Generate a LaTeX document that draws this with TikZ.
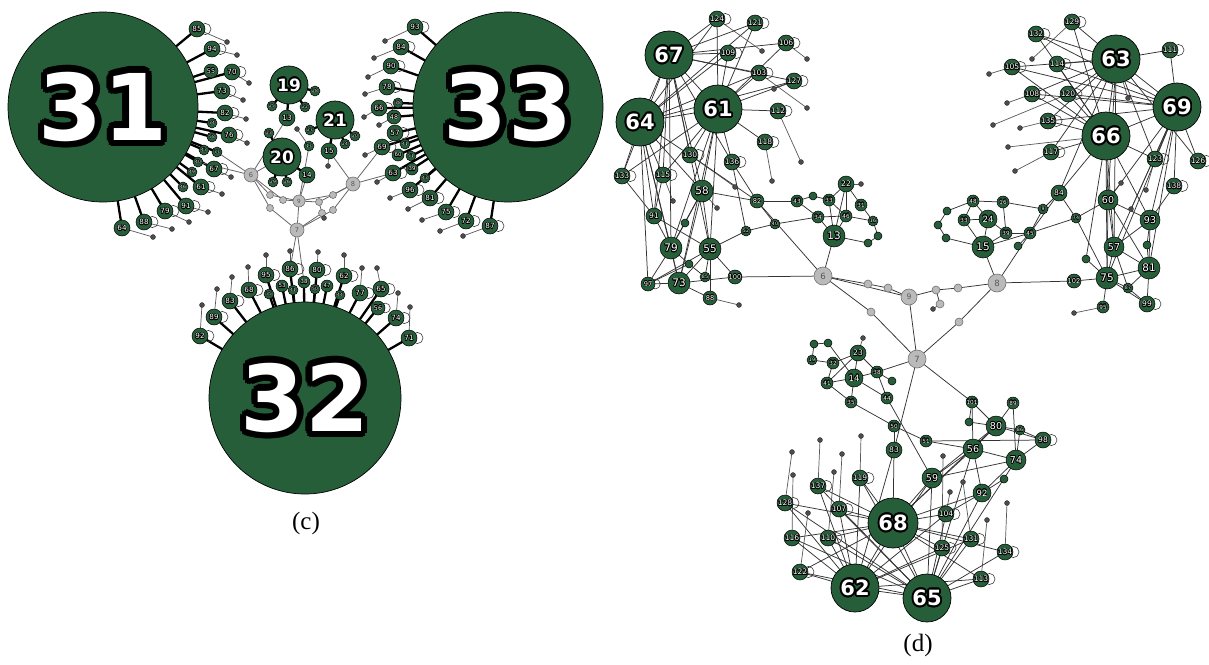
\documentclass[tikz,border=0pt]{standalone}
\usepackage{fontspec}
\setmainfont{DejaVu Sans}
\newfontfamily\capfont{Liberation Serif}
\definecolor{ngreen}{RGB}{38,94,58}
\definecolor{ngray}{RGB}{186,186,186}
\pgfdeclarelayer{bg}
\pgfsetlayers{bg,main}
\newsavebox\halobox
% white text with a dark outline made of shifted copies
\newcommand\halo[2]{{%
  \sbox\halobox{\color{black}#2}%
  \foreach \ha in {0,22.5,...,337.5}{%
    \pgfmathsetlengthmacro\hx{#1*cos(\ha)}%
    \pgfmathsetlengthmacro\hy{#1*sin(\ha)}%
    \rlap{\hspace*{\hx}\raisebox{\hy}{\usebox\halobox}}}%
  \color{white}#2}}
\tikzset{
  gn/.style={circle, fill=ngreen, draw=black, line width=0.5pt, inner sep=0pt, text=white},
  hubnode/.style={gn, line width=0.7pt},
  grn/.style={circle, fill=ngray, draw=black!55, line width=0.6pt, inner sep=0pt, text=black!65},
  pend/.style={circle, fill=black!70, draw=black!85, line width=0.3pt, inner sep=0pt, minimum size=5pt},
  loopline/.style={draw=black!75, line width=0.6pt},
  thickedge/.style={black, line width=2.3pt},
  thinedge/.style={black!60, line width=0.8pt},
  dedge/.style={black!80, line width=0.75pt},
  pedge/.style={black!65, line width=0.7pt},
  caption/.style={font=\capfont\fontsize{25}{25}\selectfont, inner sep=0pt}
}
% green vertices: name/x/y/radius/label/self-loop flag
\newcommand\greenset[2]{%
  \foreach \nm/\px/\py/\rad/\lab/\lp in {#2}{%
    \pgfmathsetmacro\fs{#1*\rad}%
    \pgfmathsetmacro\dia{2*\rad}%
    \pgfmathsetmacro\hw{0.07*\rad}%
    \ifnum\lp=1 \draw[loopline] (\px+1.05*\rad,\py) circle[radius=0.7*\rad];\fi
    \node[gn, minimum size=\dia pt, font=\fontsize{\fs}{\fs}\selectfont] (\nm) at (\px,\py) {\halo{\hw}{\lab}};}}
% large vertices: name/x/y/radius/label/font size/outline
\newcommand\hubset[1]{%
  \foreach \nm/\px/\py/\rad/\lab/\fs/\hw in {#1}{%
    \pgfmathsetmacro\dia{2*\rad}%
    \node[hubnode, minimum size=\dia pt, font=\bfseries\fontsize{\fs}{\fs}\selectfont] (\nm) at (\px,\py) {\halo{\hw}{\lab}};}}
% grey vertices: name/x/y/radius/label
\newcommand\grayset[1]{%
  \foreach \nm/\px/\py/\rad/\lab in {#1}{%
    \pgfmathsetmacro\fs{0.95*\rad}%
    \pgfmathsetmacro\dia{2*\rad}%
    \node[grn, minimum size=\dia pt, font=\fontsize{\fs}{\fs}\selectfont] (\nm) at (\px,\py) {\lab};}}

\def\cpendants{c85/227/42, c94/237/55, c70/249/83, c73/243/100, c82/246/119, c76/247/143, c67/231/177, c61/222/194, c91/208/212, c79/189/222, c88/172/229, c64/153/237,
 c93/385/41, c84/374/58, c90/368/77, c78/365/94, c66/364/117, c48/379/125, c69/365/155, c63/377/182, c96/390/198, c81/408/209, c75/422/220, c72/440/231, c87/463/236,
 c92/202/305, c89/217/289, c83/232/277, c68/248/267, c95/266/255, c86/290/251, c80/318/252, c62/344/255, c77/362/268, c65/377/268, c74/398/293, c71/410/307,
 c17/297/129, c15/328/166, cgF/324/218}
\def\dpendants{d124/762/51, d106/807/59, d127/774/89, d103/807/108, d112/801/162, d118/772/181, d130/735/187, d115/673/201, d58/717/208, d88/739/305, d22/861/184,
 d129/1032/59, d105/989/74, d108/1007/103, d120/993/125, d135/1020/128, d66/1008/147, d117/1015/171, d63/1128/98, d60/1121/183, d123/1146/190, d69/1131/209,
 d95/1074/313, d23/863/338, d128/792/452, d116/793/475, d137/820/440, d110/834/472, d107/842/454, d119/861/436, d122/808/513, d104/950/492, d125/943/456,
 d131/963/482, d113/987/520, d134/1007/503, dgE/933/309}

\begin{document}
\begin{tikzpicture}[x=1pt, y=-1pt]
\begin{pgfonlayer}{bg}
  \fill[white] (0,0) rectangle (1209,664);
\end{pgfonlayer}
\useasboundingbox (0,0) rectangle (1209,664);

% ---------------- panel (c) ----------------
\greenset{0.9}{
 c85/197/29/8/85/1, c94/212/49/8/94/1, c55/211/71/7/55/0, c70/232/72/8/70/1, c73/222/91/8/73/1, c82/225/113/8/82/1, c34/212/123/5/34/0, c76/229/135/8/76/1, c58/212/137/5/58/0, c43/204/150/5/43/0, c37/217/152/5/37/0, c40/198/162/5/40/0, c67/214/169/8/67/1, c49/192/172/5/49/0, c46/183/187/5/46/0, c61/201/187/8/61/1, c91/186/206/8/91/1, c79/165/211/8/79/1, c88/144/222/8/88/1, c64/122/228/8/64/0,
 c93/415/27/8/93/1, c84/401/47/8/84/1, c90/391/66/8/90/1, c78/387/87/8/78/1, c38/398/103/5/38/0, c66/379/108/8/66/1, c48/394/117/7/48/0, c57/395/133/8/57/1, c41/405/144/5/41/0, c69/382/147/8/69/1, c60/398/155/6/60/0, c51/411/156/5/51/0, c39/412/169/6/39/0, c63/393/173/8/63/1, c43b/425/178/5/43/0, c96/410/190/8/96/1, c81/430/198/8/81/1, c75/446/212/8/75/1, c72/466/221/8/72/1, c87/490/226/8/87/1,
 c92/200/336/8/92/1, c89/214/317/8/89/1, c83/230/301/8/83/1, c68/249/290/8/68/1, c95/266/275/8/95/1, c35/269/294/5/35/0, c53/282/286/6/53/0, c86/290/269/8/86/1, c41b/293/290/5/41/0, c38b/304/282/6/38/0, c80/317/270/8/80/1, c50/315/289/5/50/0, c47/327/286/6/47/0, c44/340/295/5/44/0, c62/344/276/8/62/1, c77/360/293/8/77/1, c65/381/289/8/65/1, c56/378/308/7/56/1, c74/396/318/8/74/1, c71/409/338/8/71/1,
 c13/287/118/8/13/0, c15/329/151/8/15/0, c14/307/175/8/14/0, c28/315/91/5/28/0, c25/272/106/5/25/0, c22/305/107/5/22/0, c27/310/130/5/27/0, c20s/355/136/5/20/0, c24/345/144/5/24/0, c23/269/133/5/23/0, c17/309/146/5/17/0, c29/273/182/5/29/0, c26/287/182/5/26/0}
\grayset{cg6/251/175/7/6, cg8/353/184/7/8, cg9/299/201/6/9, cg7/297/230/7/7,
 cgA/270/195/3.5/, cgB/283/200/3.5/, cgC/270/208/3.5/, cgD/319/202/3.5/, cgE/333/195/3.5/, cgF/322/213/3.5/, cgG/333/210/3.5/}
\hubset{c31/103/107/95/31/92/6.5, c33/508/107/95/33/92/6.5, c32/305/398/96/32/92/6.5,
 c19/289/85/19/19/17/1.6, c21/335/120/19/21/17/1.6, c20/282/157/19/20/17/1.6}
\foreach \pa/\px/\py [count=\i] in \cpendants {\node[pend] (cp\i) at (\px,\py) {};}
\node[caption] (capc) at (306,523) {(c)};

% ---------------- panel (d) ----------------
\greenset{0.95}{
 d58/702/191/11/58/0, d79/671/248/11/79/0, d55/710/249/11/55/0, d73/679/283/11/73/0, d13/834/236/11/13/0, d15/983/247/11/15/0, d60/1108/200/10/60/0, d57/1114/247/10/57/0, d81/1149/268/11/81/0, d75/1107/278/11/75/0, d93/1150/220/10/93/0, d80/996/426/10/80/0, d56/973/449/10/56/0, d74/1016/460/10/74/0, d59/932/478/10/59/0, d92/982/493/9/92/0, d14/854/378/9/14/0, d24/988/219/9/24/0, d22/846/184/8/22/0, d83/894/450/8/83/0, d91/654/216/8/91/0,
 d124/717/19/8/124/1, d121/755/23/8/121/1, d106/786/43/8/106/1, d109/728/53/8/109/1, d103/759/73/8/103/1, d127/794/81/8/127/1, d112/778/111/8/112/1, d118/765/142/8/118/1, d130/690/155/8/130/1, d136/732/162/8/136/1, d133/622/176/8/133/1, d115/663/175/8/115/1,
 d129/1072/22/8/129/1, d132/1036/34/8/132/1, d111/1170/50/8/111/1, d105/1012/67/8/105/1, d114/1057/64/8/114/1, d108/1032/94/8/108/1, d120/1068/94/8/120/1, d135/1048/121/8/135/1, d117/1051/152/8/117/1, d123/1155/159/8/123/1, d126/1198/161/8/126/1, d138/1174/186/8/138/1, d99/1147/304/8/99/1,
 d98/1043/440/8/98/1, d119/860/478/8/119/1, d137/818/486/8/137/1, d128/785/503/8/128/1, d107/839/509/8/107/1, d104/946/514/8/104/1, d110/828/538/8/110/1, d131/971/539/8/131/1, d125/942/548/8/125/1, d134/1005/552/8/134/1, d122/800/572/8/122/1, d113/981/579/8/113/1, d116/792/538/8/116/0, d97/648/284/7/97/1,
 d100/735/277/7/100/0, d88/710/298/7/88/0, d82/757/201/7/82/0, d84/1059/193/8/84/0, d102/1074/281/7/102/0, d95/1103/307/6/95/0, d23/858/353/8/23/0, d101/972/402/6/101/0, d89/1013/403/6/89/0, d86/1020/430/5/86/0, d51/926/441/6/51/0, d50/894/426/6/50/0,
 d43/797/201/6/43/0, d33/829/200/6/33/0, d31/861/205/6/31/0, d34/818/217/6/34/0, d46/846/216/6/46/0, d16/873/221/5/16/0, d40/775/224/5/40/0, d52/746/231/5/52/0, d85/705/277/5/85/0,
 d48/973/201/6/48/0, d16b/1003/202/6/16/0, d33b/964/220/6/33/0, d39/1006/233/6/39/0, d45/1030/233/6/45/0, d9/1043/209/5/9/0, d74s/1076/218/5/74/0, d87/1128/288/5/87/0,
 d19/812/360/5/19/0, d32/833/363/6/32/0, d38/877/372/6/38/0, d41/827/383/6/41/0, d35/851/402/6/35/0, d44/887/398/6/44/0,
 dA/813/196/4//0, dB/878/236/4//0, dC/868/243/4//0, dS1/685/223/4//0, dS2/689/264/4//0, dD/947/211/4//0, dE/938/225/4//0, dF/946/238/4//0, dG/1018/246/4//0, dH/1086/259/4//0, dI/1147/245/4//0, dJ/814/344/4//0, dK/828/343/4//0, dL/892/381/4//0, dM/969/422/4//0, dN/1004/479/4//0}
\grayset{dg6/823/276/9/6, dg8/997/283/9/8, dg7/917/359/9/7, dg0/909/297/8/9,
 dgA/868/284/4/, dgB/888/288/4/, dgC/936/290/4/, dgD/958/288/4/, dgE/940/304/4/, dgF/871/312/4/, dgG/959/322/4/}
\hubset{d67/669/55/24/67/21/1.9, d64/640/122/24/64/21/1.9, d61/718/109/24/61/21/1.9,
 d63/1116/59/24/63/21/1.9, d69/1177/107/24/69/21/1.9, d66/1106/136/24/66/21/1.9,
 d68/893/523/25/68/21/1.9, d62/855/588/24/62/21/1.9, d65/927/598/24/65/21/1.9}
\foreach \pa/\px/\py [count=\i] in \dpendants {\node[pend] (dp\i) at (\px,\py) {};}
\node[caption] (capd) at (918,645) {(d)};

% ---------------- connectors ----------------
\begin{pgfonlayer}{bg}
  \foreach \pa/\px/\py [count=\i] in \cpendants {\draw[pedge] (\pa.center) -- (cp\i.center);}
  \foreach \pa/\px/\py [count=\i] in \dpendants {\draw[pedge] (\pa.center) -- (dp\i.center);}
  % spokes of the large vertices in (c)
  \foreach \h/\lst in {
    c31/{c85,c94,c55,c70,c73,c82,c34,c76,c58,c43,c37,c40,c67,c49,c46,c61,c91,c79,c88,c64},
    c33/{c93,c84,c90,c78,c38,c66,c48,c57,c41,c69,c60,c51,c39,c63,c43b,c96,c81,c75,c72,c87},
    c32/{c92,c89,c83,c68,c95,c35,c53,c86,c41b,c38b,c80,c50,c47,c44,c62,c77,c65,c56,c74,c71},
    c19/{c28,c25,c22,c13}, c21/{c27,c20s,c24,c15}, c20/{c23,c29,c26,c14}}
    {\foreach \o in \lst {\draw[thickedge] (\h.center) -- (\o.center);}}
  \foreach \ea/\eb in {cg6/c13, cg6/cgA, cg6/cgB, cg6/cgC, cgA/cg9, cgB/cg9, cg9/c17, cg9/c14, cg9/cgD, cgD/cg8, cg9/cg7, cgC/cg7,
    cg8/c15, cg8/cgE, cgE/cg9, cg8/cgG, cgG/cg7, cgF/cg7, cgF/cgD, cg8/c63, cg8/c69, cg6/c37, cg6/c40, cg7/c86, cg7/c38b, cg6/c20}
    {\draw[thinedge] (\ea.center) -- (\eb.center);}
  % panel (d)
  \foreach \h/\lst in {
    d67/{d124,d121,d109,d103,d61,d64,d130,d115,d91,d79,d58,d55,d133,d106,d127,d136},
    d61/{d124,d121,d106,d109,d103,d127,d112,d118,d136,d130,d58,d55,d64,d79,d115,d73,d133},
    d64/{d124,d109,d103,d127,d133,d115,d130,d91,d79,d73,d97,d58,d121},
    d63/{d129,d132,d114,d111,d105,d120,d108,d135,d69,d66,d123,d126,d60,d57,d117},
    d69/{d111,d66,d114,d120,d105,d108,d123,d126,d138,d93,d81,d60,d57,d75,d132,d135},
    d66/{d132,d129,d114,d105,d108,d120,d135,d117,d60,d57,d123,d75,d93,dH},
    d68/{d119,d137,d107,d83,d59,d104,d92,d131,d125,d110,d116,d128,d62,d65,d56,d80,d122,d113,d134},
    d62/{d137,d128,d107,d110,d116,d122,d119,d65,d59,d104,d131,d125,d113,d83},
    d65/{d128,d107,d110,d116,d122,d59,d104,d92,d131,d125,d134,d113,d56,d74,d137,d119}}
    {\foreach \o in \lst {\draw[dedge] (\h.center) -- (\o.center);}}
  \foreach \ea/\eb in {d58/d82, d58/d55, d58/d79, d58/d73, d55/d100, d55/d85, d55/d73, d55/d88, d79/d73, d79/d97, d79/d91, d79/dS1, d79/dS2,
    d73/d97, d73/d88, d73/d100, d91/d55, d97/d55, d97/dS2, dS2/d85, dS1/d58, d100/dg6, d82/d43, d82/dg6, d82/d40, d40/d52, d52/d55, d52/d136,
    d40/d34, d130/d82, d136/d82, d115/d91, d133/d91,
    d43/dA, dA/d33, d43/d34, d34/d13, d33/d13, d33/d22, d22/d31, d22/d46, d22/d13, d31/d16, d34/d46, d46/d13, d46/d16, d16/dB, dB/dC, dC/d13,
    d33/d46, d13/dg6,
    dg6/dgA, dgA/dgB, dgB/dg0, dg6/dg0, dg6/dgF, dgF/dg7, dg0/dgC, dgC/dgD, dgD/dg8, dg0/dg7, dgC/dgE, dg8/dgG, dgG/dg7, dg8/d15, dg8/d45,
    dg8/d102, dg7/d38, dg7/d83, dg7/d101,
    d48/d16b, d48/d33b, d48/d24, d24/d33b, d24/d39, d24/d15, d15/d39, d15/d45, d15/d33b, d16b/d39, d16b/d9, d39/d45, d45/d9, d45/dG, d45/d84,
    d9/d84, dD/dE, dE/dF, dD/d48, dF/d15, d84/d66, d84/d63, d74s/d60, d74s/d75, d74s/d45, d74s/d84,
    d60/d57, d60/d75, d60/d81, d57/d75, d57/d93, d57/d81, d57/d87, d75/d81, d75/d102, d75/d87, d75/d95, d81/d93, d81/d87, d81/d99, d87/d99,
    d93/dI, dI/d81, d75/d99, dH/d75, d93/d138, d93/d60,
    dJ/dK, dJ/d19, dK/d14, d19/d32, d32/d23, d32/d41, d23/d38, d23/d41, d23/d14, d14/d41, d14/d38, d38/dL, d38/d44, d41/d35, d14/d35, d35/d50,
    d44/d59, d50/d51, d50/d83, d51/d56, d14/d44,
    d59/d56, d59/d74, d59/d80, d56/d80, d56/d74, d56/d92, d56/d101, d80/d101, d80/d89, d80/d86, d80/d98, d80/dM, d74/d98, d74/d89, d74/d86,
    d92/dN, d92/d104, d92/d74, d101/dM, d86/d98, d83/d50, d51/d98}
    {\draw[dedge] (\ea.center) -- (\eb.center);}
\end{pgfonlayer}
\end{tikzpicture}
\end{document}
